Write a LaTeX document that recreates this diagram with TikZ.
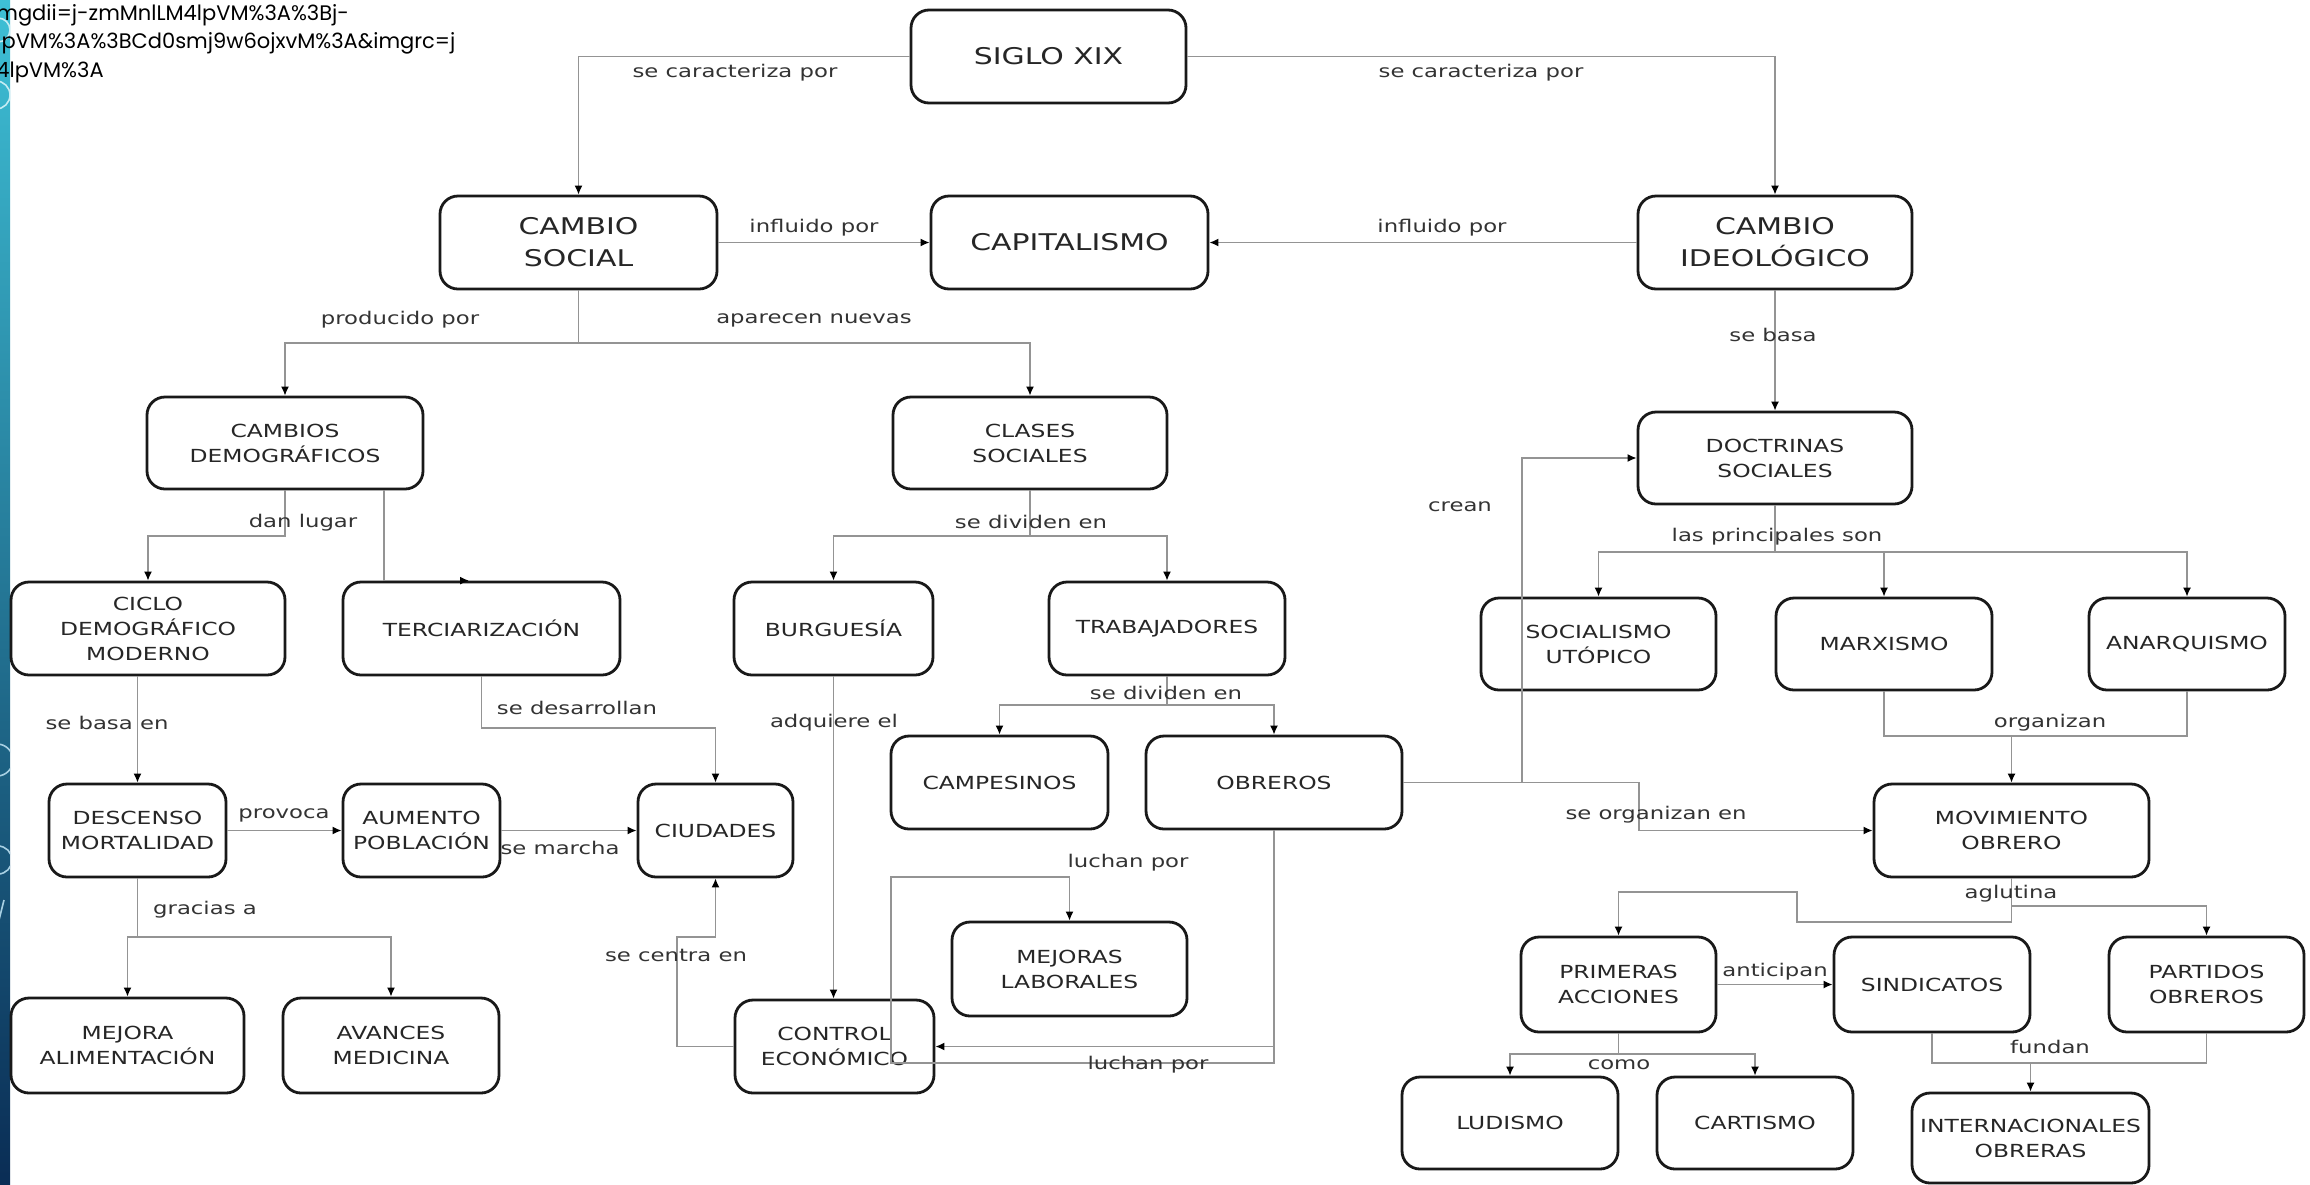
\documentclass[tikz,border=0pt]{standalone}
\usepackage{fontspec}
\setmainfont{DejaVu Sans}
\newfontfamily\bfnt[FakeStretch=1.3]{DejaVu Sans}
\newfontfamily\urlfnt{Poppins}
\usetikzlibrary{arrows.meta,calc}
\definecolor{stripA}{RGB}{62,192,214}
\definecolor{stripB}{RGB}{38,138,184}
\definecolor{stripC}{RGB}{10,45,85}
\begin{document}
\begin{tikzpicture}[x=0.5pt,y=-0.5pt,
  box/.style={draw=black!90, line width=1.4pt, rounded corners=9pt, align=center,
    inner sep=0pt, text=black!85, font=\bfnt\fontsize{9}{12.5}\selectfont},
  bigbox/.style={box, font=\bfnt\fontsize{11.5}{16}\selectfont},
  conn/.style={draw=black!42, line width=0.75pt},
  arr/.style={conn, -{Latex[length=4.5pt,width=4pt,black]}},
  lbl/.style={font=\bfnt\fontsize{8.75}{10}\selectfont, text=black!80, inner sep=0pt}]
\useasboundingbox (0,0) rectangle (2310,1184);
\fill[white] (0,0) rectangle (2310,1184);
% left strip
\shade[top color=stripA, middle color=stripB, bottom color=stripC] (0,0) rectangle (10,1184);
\begin{scope}
\clip (0,0) rectangle (10,1184);
\draw[white!70!stripA, line width=0.8pt] (-4,95) circle (14);
\draw[white!70!stripA, line width=0.8pt] (-2,30) circle (12);
\draw[white!60!stripB, line width=0.8pt] (-3,760) circle (16);
\draw[white!60!stripB, line width=0.8pt] (-2,860) circle (14);
\draw[white!60!stripB, line width=0.8pt] (4,900) -- (-6,940);
\end{scope}
% url text
\node[anchor=north west, font=\urlfnt\fontsize{10.5}{14.3}\selectfont, align=left, inner sep=0pt] (url) at (-4,4)
  {mgdii=j-zmMnlLM4lpVM\%3A\%3Bj-\\lpVM\%3A\%3BCd0smj9w6ojxvM\%3A\&imgrc=j\\4lpVM\%3A};

% nodes
\node[bigbox, minimum width=137.5pt, minimum height=46.5pt] (siglo) at (1048.5,56.5) {SIGLO XIX};
\node[bigbox, minimum width=138.5pt, minimum height=46.5pt] (csocial) at (578.5,242.5) {CAMBIO\\SOCIAL};
\node[bigbox, minimum width=138.5pt, minimum height=46.5pt] (capital) at (1069.5,242.5) {CAPITALISMO};
\node[bigbox, minimum width=137pt, minimum height=46.5pt] (cideo) at (1775,242.5) {CAMBIO\\IDEOLÓGICO};
\node[box, minimum width=138pt, minimum height=46pt] (cdemog) at (285,443) {CAMBIOS\\DEMOGRÁFICOS};
\node[box, minimum width=137pt, minimum height=46pt] (clases) at (1030,443) {CLASES\\SOCIALES};
\node[box, minimum width=137pt, minimum height=46pt] (doctr) at (1775,458) {DOCTRINAS\\SOCIALES};
\node[box, minimum width=137pt, minimum height=46.5pt] (ciclo) at (148,628.5) {CICLO\\DEMOGRÁFICO\\MODERNO};
\node[box, minimum width=138.5pt, minimum height=46.5pt] (terc) at (481.5,628.5) {TERCIARIZACIÓN};
\node[box, minimum width=99.5pt, minimum height=46.5pt] (burg) at (833.5,628.5) {BURGUESÍA};
\node[box, minimum width=118pt, minimum height=46.5pt] (trab) at (1167,628.5) {TRABAJADORES};
\node[box, minimum width=117.5pt, minimum height=46pt] (socut) at (1598.5,644) {SOCIALISMO\\UTÓPICO};
\node[box, minimum width=108pt, minimum height=46pt] (marx) at (1884,644) {MARXISMO};
\node[box, minimum width=98pt, minimum height=46pt] (anarq) at (2187,644) {ANARQUISMO};
\node[box, minimum width=108.5pt, minimum height=46.5pt] (campes) at (999.5,782.5) {CAMPESINOS};
\node[box, minimum width=128pt, minimum height=46.5pt] (obreros) at (1274,782.5) {OBREROS};
\node[box, minimum width=88.5pt, minimum height=46.5pt] (descenso) at (137.5,830.5) {DESCENSO\\MORTALIDAD};
\node[box, minimum width=78.5pt, minimum height=46.5pt] (aumento) at (421.5,830.5) {AUMENTO\\POBLACIÓN};
\node[box, minimum width=77.5pt, minimum height=46.5pt] (ciudades) at (715.5,830.5) {CIUDADES};
\node[box, minimum width=137.5pt, minimum height=46.5pt] (movim) at (2011.5,830.5) {MOVIMIENTO\\OBRERO};
\node[box, minimum width=117.5pt, minimum height=47pt] (mejoras) at (1069.5,969) {MEJORAS\\LABORALES};
\node[box, minimum width=97.5pt, minimum height=47.5pt] (primeras) at (1618.5,984.5) {PRIMERAS\\ACCIONES};
\node[box, minimum width=98pt, minimum height=47.5pt] (sindic) at (1932,984.5) {SINDICATOS};
\node[box, minimum width=97.5pt, minimum height=47.5pt] (partidos) at (2206.5,984.5) {PARTIDOS\\OBREROS};
\node[box, minimum width=116.5pt, minimum height=47.5pt] (mejalim) at (127.5,1045.5) {MEJORA\\ALIMENTACIÓN};
\node[box, minimum width=108pt, minimum height=47.5pt] (avances) at (391,1045.5) {AVANCES\\MEDICINA};
\node[box, minimum width=99.5pt, minimum height=46.5pt] (control) at (834.5,1046.5) {CONTROL\\ECONÓMICO};
\node[box, minimum width=108pt, minimum height=46pt] (ludismo) at (1510,1123) {LUDISMO};
\node[box, minimum width=98pt, minimum height=46pt] (cartismo) at (1755,1123) {CARTISMO};
\node[box, minimum width=118.5pt, minimum height=45pt] (intern) at (2030.5,1138) {INTERNACIONALES\\OBRERAS};

% connectors
\draw[arr] (siglo.west) -| (csocial.north);
\draw[arr] (siglo.east) -| (cideo.north);
\draw[arr] (csocial.east) -- (capital.west);
\draw[arr] (cideo.west) -- (capital.east);
\draw[conn] (csocial.south) -- (csocial.south |- 0,343);
\draw[arr] (csocial.south |- 0,343) -| (cdemog.north);
\draw[arr] (csocial.south |- 0,343) -| (clases.north);
\draw[arr] (cideo.south) -- (doctr.north);
\draw[arr] (cdemog.south) -- (cdemog.south |- 0,536) -| (ciclo.north);
\draw[arr] (cdemog.south -| 384,0) -- (terc.north -| 384,0) -- (terc.north -| 469,0);
\draw[arr] (ciclo.south -| descenso.north) -- (descenso.north);
\draw[arr] (terc.south) -- (terc.south |- 0,728) -| (ciudades.north);
\draw[arr] (descenso.east) -- (aumento.west);
\draw[arr] (aumento.east) -- (ciudades.west);
\draw[conn] (descenso.south) -- (descenso.south |- 0,937);
\draw[arr] (descenso.south |- 0,937) -| (mejalim.north);
\draw[arr] (descenso.south |- 0,937) -| (avances.north);
\draw[arr] (control.west) -| (677,937) -| (ciudades.south);
\draw[conn] (clases.south) -- (clases.south |- 0,536);
\draw[arr] (clases.south |- 0,536) -| (burg.north);
\draw[arr] (clases.south |- 0,536) -| (trab.north);
\draw[arr] (burg.south) -- (burg.south |- control.north);
\draw[conn] (trab.south) -- (trab.south |- 0,705);
\draw[arr] (trab.south |- 0,705) -| (campes.north);
\draw[arr] (trab.south |- 0,705) -| (obreros.north);
\draw[arr] (obreros.south) |- (control.east);
\draw[arr] (obreros.south) |- (891,1063) |- (mejoras.north |- 0,877) -- (mejoras.north);
\draw[arr] (obreros.east) -| (1522,458) -- (doctr.west);
\draw[arr] (obreros.east) -| (1639,830.5) -- (movim.west);
\draw[conn] (doctr.south) -- (doctr.south |- 0,552);
\draw[arr] (doctr.south |- 0,552) -| (socut.north);
\draw[arr] (doctr.south |- 0,552) -| (marx.north);
\draw[arr] (doctr.south |- 0,552) -| (anarq.north);
\draw[conn] (marx.south) |- (anarq.south |- 0,736) -- (anarq.south);
\draw[arr] (movim.north |- 0,736) -- (movim.north);
\draw[arr] (movim.south) |- (1797,922) |- (primeras.north |- 0,892) -- (primeras.north);
\draw[arr] (movim.south |- 0,906) -| (partidos.north);
\draw[arr] (primeras.east) -- (sindic.west);
\draw[conn] (primeras.south) -- (primeras.south |- 0,1054);
\draw[arr] (primeras.south |- 0,1054) -| (ludismo.north);
\draw[arr] (primeras.south |- 0,1054) -| (cartismo.north);
\draw[conn] (sindic.south) |- (partidos.south |- 0,1063) -- (partidos.south);
\draw[arr] (intern.north |- 0,1063) -- (intern.north);

% labels
\node[lbl] (l1) at (735,73) {se caracteriza por};
\node[lbl] (l2) at (1481,73) {se caracteriza por};
\node[lbl] (l3) at (814,228) {influido por};
\node[lbl] (l4) at (1442,228) {influido por};
\node[lbl] (l5) at (400,320) {producido por};
\node[lbl] (l6) at (814,320) {aparecen nuevas};
\node[lbl] (l7) at (1773,335) {se basa};
\node[lbl] (l8) at (303,523) {dan lugar};
\node[lbl] (l9) at (1031,522) {se dividen en};
\node[lbl] (l10) at (1777,537) {las principales son};
\node[lbl] (l11) at (1460,507) {crean};
\node[lbl] (l12) at (107,723) {se basa en};
\node[lbl] (l13) at (577,708) {se desarrollan};
\node[lbl] (l14) at (834,723) {adquiere el};
\node[lbl] (l15) at (1166,693) {se dividen en};
\node[lbl] (l16) at (2050,723) {organizan};
\node[lbl] (l17) at (284,815) {provoca};
\node[lbl] (l18) at (560,848) {se marcha};
\node[lbl] (l19) at (1656,815) {se organizan en};
\node[lbl] (l20) at (1128,863) {luchan por};
\node[lbl] (l21) at (2011,894) {aglutina};
\node[lbl] (l22) at (205,910) {gracias a};
\node[lbl] (l23) at (676,955) {se centra en};
\node[lbl] (l24) at (1775,972) {anticipan};
\node[lbl] (l25) at (2050,1047) {fundan};
\node[lbl] (l26) at (1148,1065) {luchan por};
\node[lbl] (l27) at (1619,1065) {como};
\end{tikzpicture}
\end{document}
